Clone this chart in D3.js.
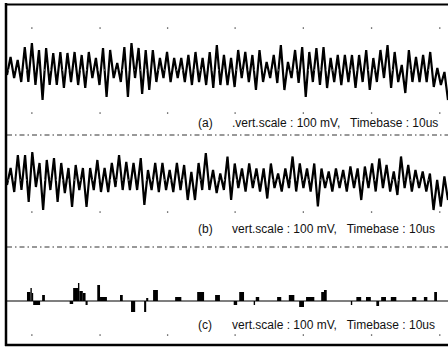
<!DOCTYPE html>
<html>
<head>
<meta charset="utf-8">
<script src="https://cdn.jsdelivr.net/npm/d3@7"></script>
<style>
  body { margin: 0; background: #fff; }
  svg { display: block; }
</style>
</head>
<body>
<div id="chart"></div>
<script>
// trace (a), mV, evenly sampled over the 64 us sweep
const traceA = [-10,
  26,-16,20,-24,46,-24,54,-30,40,-60,44,-30,34,-30,36,-36,34,-24,36,-30,30,-36,36,-16,24,-30,44,-54,40,-16,14,-24,46,-54,54,-16,44,-48,40,
  -40,40,-24,24,-16,36,-24,24,-16,24,-24,30,-30,36,-24,24,-30,36,-36,50,-30,30,-30,24,-34,40,-16,36,-24,30,-40,40,-24,16,-16,30,-26,50,-40,16,-16,40,-26,
  46,-54,36,-24,44,-30,46,-36,24,-24,30,-30,30,-24,30,-36,30,-24,40,-40,24,-24,40,-16,50,-36,36,-24,10,-46,40,-24,26,-24,30,-24,36,-34,4,-30,-4,-60];

// trace (b), mV
const traceB = [-10,
  24,-24,50,-20,50,-44,56,-14,34,-60,40,-20,44,-44,34,-26,24,-54,30,-20,24,-54,24,-20,40,-24,24,-24,34,-14,50,-20,36,-20,34,-20,44,-50,20,-20,34,-24,34,-20,20,-24,34,-20,30,-40,16,-40,34,-20,54,-20,20,-26,
  13,-20,47,-40,33,-16,23,-23,33,-16,23,-23,23,-37,33,-16,13,-23,23,-16,47,-23,33,-16,23,-23,33,-53,23,-16,17,-23,23,-16,20,-23,27,-16,23,-40,27,-16,33,-23,43,-16,30,-23,17,-30,47,-16,30,-23,20,-16,17,-23,13,-60,0,-53,7,-40];

// trace (c): pulses [start us, end us, mV]
const pulsesC = [
  [2.9,3.4,18],[3.4,3.6,26],[3.6,3.8,16],[3.8,4.8,-8],[5.1,5.5,12],
  [9.1,9.6,-6],[9.6,10.3,26],[10.3,10.5,36],[10.5,11.0,20],[11.0,11.4,16],[11.4,11.7,-8],
  [13.1,13.5,32],[13.5,14.5,8],[16.4,16.8,12],[18.0,18.6,-22],[19.9,20.2,-22],[20.2,20.5,6],
  [21.2,21.9,22],[24.4,25.3,8],[27.6,28.6,18],[30.2,30.9,12],
  [32.9,33.4,-8],[33.7,34.4,18],[35.8,36.0,-8],[36.1,36.6,8],[39.2,39.8,8],[40.9,41.7,12],
  [42.4,43.1,-12],[43.4,44.6,8],[45.6,46.0,18],[46.0,46.4,22],[49.9,50.1,-8],[50.7,51.4,8],
  [52.1,52.8,8],[53.6,54.0,-10],[54.3,55.0,8],[55.7,56.5,8],[58.8,59.4,8],[60.5,61.0,8],[62.0,62.4,18]
];

const panelLabels = ['(a)', '(b)', '(c)'];
const scaleTexts = ['.vert.scale : 100 mV,   Timebase : 10us',
                    'vert.scale : 100 mV,   Timebase : 10us',
                    'vert.scale : 100 mV,   Timebase : 10us'];
const gridT = [3.6, 13.5, 23.3, 33.1, 43.0, 52.9, 62.8];
const gridRows = [[0, 84], [0, -86], [1, -64], [2, -68]];

const width = 448, height = 349;
const centers = [70, 180, 301];
const labelY = [127, 233, 329];
const sepY = [135, 247];

const svg = d3.select('#chart').append('svg')
  .attr('width', width).attr('height', height);

const x = d3.scaleLinear().domain([0, 64]).range([7, 448]);
const ys = centers.map(c => d3.scaleLinear().domain([-100, 100]).range([c + 50, c - 50]));

// graticule dots
gridRows.forEach(([p, v]) => {
  svg.selectAll(null).data(gridT).enter().append('rect')
    .attr('x', d => x(d) - 0.6).attr('y', ys[p](v) - 0.6)
    .attr('width', 1.3).attr('height', 1.3).attr('fill', '#444');
});

// separators
svg.selectAll('.sep').data(sepY).enter().append('line')
  .attr('x1', 7).attr('x2', width).attr('y1', d => d).attr('y2', d => d)
  .attr('stroke', '#333').attr('stroke-width', 1)
  .attr('stroke-dasharray', '5,3,1.5,3');

// traces
[traceA, traceB].forEach((tr, p) => {
  const line = d3.line()
    .x((d, i) => x(i * 64 / (tr.length - 1)))
    .y(d => ys[p](d));
  svg.append('path').datum(tr)
    .attr('d', line).attr('fill', 'none')
    .attr('stroke', '#000').attr('stroke-width', 2.2)
    .attr('stroke-linejoin', 'miter');
  svg.append('line')
    .attr('x1', 8).attr('x2', width).attr('y1', ys[p](0)).attr('y2', ys[p](0))
    .attr('stroke', '#fff').attr('stroke-width', 0.8).attr('stroke-dasharray', '1,5')
    .attr('opacity', 0.7);
});

// trace (c)
svg.append('line')
  .attr('x1', x(0)).attr('x2', x(64)).attr('y1', ys[2](0)).attr('y2', ys[2](0))
  .attr('stroke', '#000').attr('stroke-width', 1.2);
svg.selectAll('.pulse').data(pulsesC).enter().append('rect')
  .attr('x', d => x(d[0]))
  .attr('width', d => x(d[1]) - x(d[0]))
  .attr('y', d => ys[2](Math.max(d[2], 0)))
  .attr('height', d => Math.abs(ys[2](d[2]) - ys[2](0)))
  .attr('fill', '#000');

// labels
panelLabels.forEach((lab, i) => {
  svg.append('text').attr('x', 198).attr('y', labelY[i])
    .attr('font-family', 'Liberation Sans, Arial, sans-serif').attr('font-size', 12)
    .attr('fill', '#111').text(lab);
  svg.append('text').attr('x', 232).attr('y', labelY[i])
    .attr('font-family', 'Liberation Sans, Arial, sans-serif').attr('font-size', 12)
    .attr('fill', '#111').style('white-space', 'pre').text(scaleTexts[i]);
});

// frame
svg.append('line').attr('x1', 6).attr('x2', 6).attr('y1', 3).attr('y2', 346)
  .attr('stroke', '#000').attr('stroke-width', 2.5);
svg.append('line').attr('x1', 5).attr('x2', width).attr('y1', 4.5).attr('y2', 4.5)
  .attr('stroke', '#000').attr('stroke-width', 2);
svg.append('line').attr('x1', 5).attr('x2', width).attr('y1', 345).attr('y2', 345)
  .attr('stroke', '#000').attr('stroke-width', 2.5);
</script>
</body>
</html>
